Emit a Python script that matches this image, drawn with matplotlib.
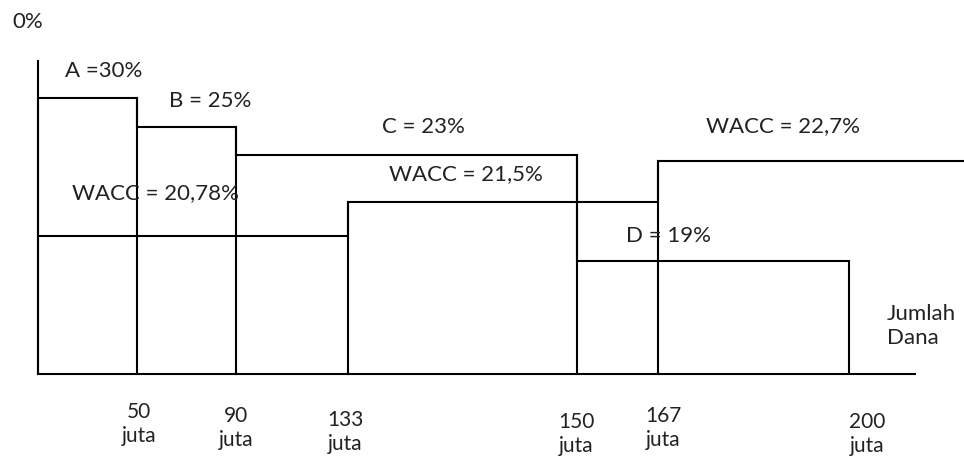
import numpy as np
import matplotlib.pyplot as plt

plt.rcParams['font.family'] = ['Lato', 'DejaVu Sans']

# Investment opportunity schedule: proyek A-D (batas dana dalam juta, return %)
batas_ios = [0, 50, 90, 150, 200]
return_ios = [30, 25, 23, 19]
label_ios = ['A =30%', 'B = 25%', 'C = 23%', 'D = 19%']

# WACC (marginal cost of capital) per break point
batas_wacc = [0, 133, 167, 231]
nilai_wacc = [20.78, 21.5, 22.7]
label_wacc = ['WACC = 20,78%', 'WACC = 21,5%', 'WACC = 22,7%']

tick_dana = [50, 90, 133, 150, 167, 200]
tick_label = ['50\njuta', '90\njuta', '133\njuta', '150\njuta', '167\njuta', '200\njuta']

# gambar aslinya tidak berskala -> pemetaan sepotong-sepotong ke posisi gambar
x_knot = [-20, 0, 50, 90, 133, 150, 167, 200, 220, 231]
x_pos = [0, 38, 137, 236, 348, 577, 658, 849, 915, 964]
y_knot = [-19, 0, 19, 20.78, 21.5, 22.7, 23, 25, 30, 33, 40]
y_pos = [0, 85, 198, 223, 257, 298, 304, 332, 361, 398, 460]

fig = plt.figure(figsize=(9.64, 4.6), dpi=100)
ax = fig.add_axes([0, 0, 1, 1])
ax.set_xscale('function', functions=(lambda v: np.interp(v, x_knot, x_pos),
                                     lambda p: np.interp(p, x_pos, x_knot)))
ax.set_yscale('function', functions=(lambda v: np.interp(v, y_knot, y_pos),
                                     lambda p: np.interp(p, y_pos, y_knot)))
ax.set_xlim(-20, 231)
ax.set_ylim(-19, 40)
ax.axis('off')

lw = 1.5
# sumbu
ax.plot([0, 0], [0, 33], color='black', lw=lw)
ax.plot([0, 220], [0, 0], color='black', lw=lw)

# IOS
ax.stairs(return_ios, batas_ios, baseline=0, fill=False, color='black', lw=lw)
for i in range(1, len(return_ios)):
    ax.plot([batas_ios[i]] * 2, [0, max(return_ios[i - 1], return_ios[i])], color='black', lw=lw)

# WACC
ax.stairs(nilai_wacc, batas_wacc, baseline=None, fill=False, color='black', lw=lw)
for i in range(1, len(nilai_wacc)):
    ax.plot([batas_wacc[i]] * 2, [0, max(nilai_wacc[i - 1], nilai_wacc[i])], color='black', lw=lw)

fs = 16
tc = '#222222'
pos_ios = [(104, 389), (210, 359), (423, 333), (669, 224)]
for s, (px, py) in zip(label_ios, pos_ios):
    fig.text(px / 964, py / 460, s, ha='center', va='center', fontsize=fs, color=tc)
pos_wacc = [(155, 267), (466, 286), (783, 334)]
for s, (px, py) in zip(label_wacc, pos_wacc):
    fig.text(px / 964, py / 460, s, ha='center', va='center', fontsize=fs, color=tc)

fig.text(28 / 964, 438 / 460, '0%', ha='center', va='center', fontsize=fs, color=tc)
fig.text(887 / 964, 134 / 460, 'Jumlah\nDana', ha='left', va='center', fontsize=fs,
         color=tc, linespacing=1.3)

dx = [2, 0, -3, -1, 5, 18]
dy = [-49, -53, -57, -59, -53, -59]
for v, s, ox, oy in zip(tick_dana, tick_label, dx, dy):
    ax.annotate(s, xy=(v, 0), xytext=(ox, oy), textcoords='offset pixels',
                ha='center', va='center', fontsize=fs - 1, color=tc, linespacing=1.3)

fig.savefig('out.png', dpi=100)
